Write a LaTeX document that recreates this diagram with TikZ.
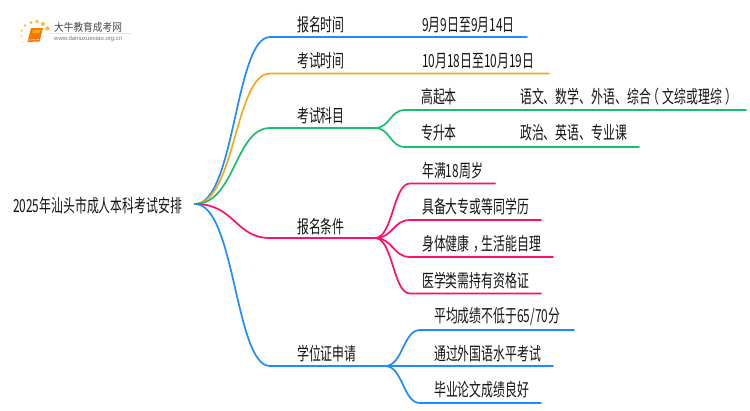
\documentclass[tikz,border=0pt]{standalone}
\usepackage{fontspec}
\setmainfont{Liberation Sans}
\newfontfamily\cjk[FakeStretch=0.66]{Noto Sans CJK SC}
\newfontfamily\cjklogo[FakeStretch=0.88]{Noto Sans CJK SC}
\definecolor{cblue}{HTML}{1E8CFF}
\definecolor{corange}{HTML}{F5A81C}
\definecolor{cgreen}{HTML}{17C06F}
\definecolor{cpink}{HTML}{FF0F6C}
\tikzset{
  x=1pt,y=-1pt,
  lab/.style={inner sep=0pt,anchor=west,yshift=-0.8pt,text=black!92,font=\cjk\fontsize{18}{18}\selectfont},
  lnk/.style={line width=1.7pt,line cap=round},
}
\begin{document}
\begin{tikzpicture}
\useasboundingbox (0,0) rectangle (750,410);
% logo
\foreach \px/\py/\r in {22.5/42/.7,21.5/36/.9,21.5/30.5/1.1,25/25.5/1.4,31/22.5/1.7,37/21.5/1.9,43/24/2,47.5/28.5/2.2}
  \fill[orange!75!yellow,opacity=.75] (\px,\py) circle[radius=\r];
\fill[orange!90!red] (31,28) -- (43,28) -- (39.5,41.5) -- (27.5,42) -- cycle;
\fill[orange!65!yellow] (33,30) -- (41,30) -- (39,33) -- (32,33) -- cycle;
\draw[white!70!orange,line width=.7pt] (28.5,40) -- (39,39.5);
\node[inner sep=0pt,anchor=west,text=black!72,font=\cjklogo\fontsize{11}{11}\selectfont] (logot) at (54,27) {大牛教育成考网};
\node[inner sep=0pt,anchor=west,text=black!55,font=\fontsize{6}{6}\selectfont] (logou) at (54,38.5) {www.daniuxuexiao.org.cn};
\draw[black!10,line width=.5pt] (48,33.5) -- (132,33.5);
% nodes
\node[lab] (root) at (13,205) {2025年汕头市成人本科考试安排};
\coordinate (o) at (195,204);
\node[lab] (a) at (297,24) {报名时间};
\node[lab] (a1) at (422,24) {9月9日至9月14日};
\node[lab] (b) at (297,60) {考试时间};
\node[lab] (b1) at (422,60) {10月18日至10月19日};
\node[lab] (c) at (297,115) {考试科目};
\node[lab] (c1) at (421,96) {高起本};
\node[lab] (c1a) at (520,96) {语文、数学、外语、综合\kern-3pt（\kern3pt 文综或理综\kern3pt）\kern-3pt};
\node[lab] (c2) at (421,132) {专升本};
\node[lab] (c2a) at (520,132) {政治、英语、专业课};
\node[lab] (d) at (297,226) {报名条件};
\node[lab] (d1) at (422,170) {年满18周岁};
\node[lab] (d2) at (422,206) {具备大专或等同学历};
\node[lab] (d3) at (422,243) {身体健康\kern3.5pt，\kern-3.5pt 生活能自理};
\node[lab] (d4) at (422,280) {医学类需持有资格证};
\node[lab] (e) at (297,353) {学位证申请};
\node[lab] (e1) at (434,316) {平均成绩不低于65/70分};
\node[lab] (e2) at (434,353) {通过外国语水平考试};
\node[lab] (e3) at (434,389) {毕业论文成绩良好};
% junctions and ends
\coordinate (ja) at (270,37);  \coordinate (ea) at (527,37);
\coordinate (jb) at (270,73.5);\coordinate (eb) at (549,73.5);
\coordinate (jc) at (270,128); \coordinate (kc) at (375,128);
\coordinate (jc1) at (405,110);\coordinate (ec1) at (746,110);
\coordinate (jc2) at (405,147);\coordinate (ec2) at (639,147);
\coordinate (jd) at (270,238); \coordinate (kd) at (375,238);
\coordinate (jd1) at (410,183.5);\coordinate (ed1) at (495,183.5);
\coordinate (jd2) at (410,220);\coordinate (ed2) at (541,220);
\coordinate (jd3) at (410,257);\coordinate (ed3) at (553,257);
\coordinate (jd4) at (410,293.5);\coordinate (ed4) at (541,293.5);
\coordinate (je) at (270,366); \coordinate (ke) at (385,366);
\coordinate (je1) at (420,330);\coordinate (ee1) at (574,330);
\coordinate (je2) at (420,366);\coordinate (ee2) at (553,366);
\coordinate (je3) at (420,403);\coordinate (ee3) at (541,403);
\coordinate (mo) at (235,204);
\coordinate (md) at (393,238);
\coordinate (me) at (403,366);
% connectors
\draw[lnk,cblue] (o) .. controls (mo) and (mo |- ja) .. (ja) -- (ea);
\draw[lnk,corange] (o) .. controls (mo) and (mo |- jb) .. (jb) -- (eb);
\draw[lnk,cgreen] (o) .. controls (mo) and (mo |- jc) .. (jc) -- (kc);
\draw[lnk,cgreen] (kc) .. controls (390,128) and (390,110) .. (jc1) -- (ec1);
\draw[lnk,cgreen] (kc) .. controls (390,128) and (390,147) .. (jc2) -- (ec2);
\draw[lnk,cpink] (o) .. controls (mo) and (mo |- jd) .. (jd) -- (kd);
\foreach \j/\e in {jd1/ed1,jd2/ed2,jd3/ed3,jd4/ed4}
  \draw[lnk,cpink] (kd) .. controls (md) and (md |- \j) .. (\j) -- (\e);
\draw[lnk,cblue] (o) .. controls (mo) and (mo |- je) .. (je) -- (ke);
\foreach \j/\e in {je1/ee1,je2/ee2,je3/ee3}
  \draw[lnk,cblue] (ke) .. controls (me) and (me |- \j) .. (\j) -- (\e);
\end{tikzpicture}
\end{document}
